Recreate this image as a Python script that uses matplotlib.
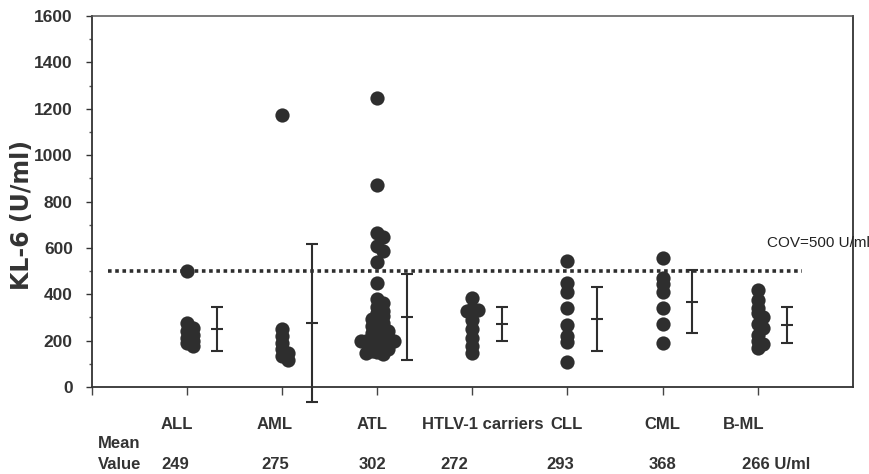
import numpy as np
import matplotlib.pyplot as plt

# KL-6 serum levels by group (U/ml)
groups = ['ALL', 'AML', 'ATL', 'HTLV-1 carriers', 'CLL', 'CML', 'B-ML']
all_vals = [500, 275, 255, 240, 225, 212, 200, 188, 175]
aml_vals = [1175, 250, 222, 190, 165, 148, 132, 118]
atl_vals = [1245, 870, 665, 648, 608, 588, 540, 450,
            380, 362, 345, 330, 318, 305, 295, 285, 275, 265, 258, 250,
            242, 235, 228, 220, 214, 208, 202, 200, 200, 198, 192, 186,
            180, 174, 168, 162, 156, 150, 146, 142]
htlv_vals = [382, 335, 332, 328, 290, 250, 213, 175, 148]
cll_vals = [545, 450, 412, 342, 268, 222, 195, 108]
cml_vals = [556, 470, 445, 410, 342, 272, 190]
bml_vals = [418, 376, 342, 318, 300, 272, 255, 226, 200, 186, 170]
values = [all_vals, aml_vals, atl_vals, htlv_vals, cll_vals, cml_vals, bml_vals]

means = [249, 275, 302, 272, 293, 368, 266]
sds = [95, 340, 186, 74, 138, 136, 78]
mean_labels = ['249', '275', '302', '272', '293', '368', '266 U/ml']
cov = 500

ink = '#2e2e2e'

fig = plt.figure(figsize=(8.7, 4.74), dpi=100)
ax = fig.add_axes([0.106, 0.1835, 0.874, 0.7825])
ax.set_xlim(0, 8)
ax.set_ylim(0, 1600)

# pixels per data unit, used to lay out the dot columns
bbox = ax.get_window_extent()
px_x = bbox.width / 8
px_y = bbox.height / 1600


def swarm(vals, min_d=5.5, step=5.5):
    # simple beeswarm: push each dot sideways until it stops piling up
    placed = []
    offs = []
    for v in sorted(vals, reverse=True):
        yv = v * px_y
        k = 0
        while True:
            cand = 0 if k == 0 else ((k + 1) // 2) * step * (1 if k % 2 else -1)
            if all(np.hypot(cand - px, yv - py) >= min_d for px, py in placed):
                break
            k += 1
        placed.append((cand, yv))
        offs.append(cand / px_x)
    return sorted(vals, reverse=True), offs


for i, vals in enumerate(values):
    xc = i + 1
    ys, offs = swarm(vals)
    ax.scatter([xc + o for o in offs], ys, s=105, color=ink, zorder=3,
               linewidths=0)
    eb = ax.errorbar(xc + 0.31, means[i], yerr=sds[i], fmt='_', color=ink,
                     markersize=8, capsize=4, elinewidth=1.5, capthick=1.5,
                     markeredgewidth=1.5, zorder=2)
    for art in [eb.lines[0]] + list(eb.lines[1]) + list(eb.lines[2]):
        art.set_clip_on(False)

# cut-off line
ax.plot([0.17, 7.47], [cov, cov], linestyle=(0, (1, 1)), color=ink, lw=2.6,
        zorder=1)
ax.text(7.1, 620, 'COV=500 U/ml', fontsize=11, color='#222',
        family='Liberation Sans', va='center', ha='left', clip_on=False)

# axes styling
for sp in ax.spines.values():
    sp.set_color('#333')
    sp.set_linewidth(1.3)
ax.spines['top'].set_linewidth(1.1)
ax.spines['top'].set_color('#555')

ax.set_yticks(np.arange(0, 1601, 200))
ax.set_yticks(np.arange(100, 1600, 200), minor=True)
ax.tick_params(axis='y', which='major', length=4, width=1, direction='out',
               labelsize=12.5, pad=10, colors='#333')
ax.tick_params(axis='y', which='minor', length=2.5, width=1, colors='#555')
for lab in ax.get_yticklabels():
    lab.set_fontweight('bold')
    lab.set_family('Liberation Sans')
    lab.set_color('#333')

ax.set_xticks(np.arange(0, 8))
ax.set_xticklabels([])
ax.tick_params(axis='x', length=6, width=1, direction='out', colors='#444')

ax.set_ylabel('KL-6 (U/ml)', fontsize=17, fontweight='bold',
              family='DejaVu Sans', color='#333', va='center')
ax.yaxis.set_label_coords(-0.092, 0.465)

# group names and means under the axis
lab_font = dict(fontsize=12, fontweight='bold', color='#333',
                family=['Liberation Sans Narrow', 'Liberation Sans'])
name_dx = [-0.11, -0.08, -0.06, 0.11, -0.01, 0.0, -0.15]
mean_dx = [-0.13, -0.07, -0.05, -0.19, -0.08, 0.0, -0.16]
trans = ax.get_xaxis_transform()
for i, name in enumerate(groups):
    ax.text(i + 1 + name_dx[i], -0.10, name, ha='center', va='center',
            transform=trans, **lab_font)
    ha = 'left' if i == 6 else 'center'
    ax.text(i + 1 + mean_dx[i], -0.208, mean_labels[i], ha=ha, va='center',
            transform=trans, **lab_font)
ax.text(0.06, -0.152, 'Mean', ha='left', va='center', transform=trans,
        **lab_font)
ax.text(0.06, -0.208, 'Value', ha='left', va='center', transform=trans,
        **lab_font)

fig.savefig('out.png', dpi=100)
